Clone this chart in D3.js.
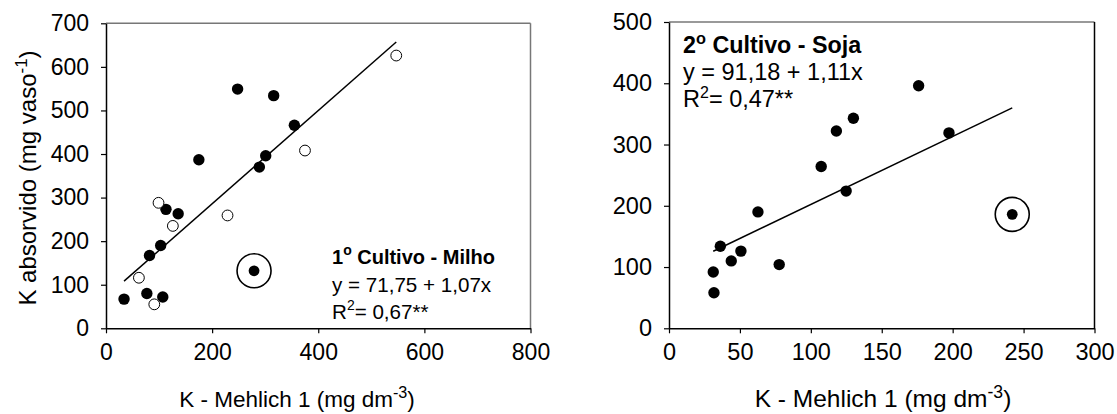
<!DOCTYPE html>
<html><head><meta charset="utf-8">
<script src="https://cdn.jsdelivr.net/npm/d3@7"></script>
<style>
body{margin:0;background:#fff;}
text{font-family:Arial,"Liberation Sans",sans-serif;fill:#000;}
</style></head>
<body><svg id="c" width="1117" height="414"></svg>
<script>
// ---- data ----
const milhoFilledX = [34, 77, 107, 82, 103, 113, 136, 175, 248, 289, 301, 316, 355];
const milhoFilledY = [67, 80, 72, 167, 190, 273, 263, 387, 549, 370, 396, 534, 466];
const milhoOpenX = [62, 91, 99, 126, 229, 375, 547];
const milhoOpenY = [116, 55, 288, 235, 259, 408, 626];
const milhoOutlier = [279, 132];
const milhoFit = {a: 71.75, b: 1.07};
const milhoXTicks = [0, 200, 400, 600, 800];
const milhoYTicks = [0, 100, 200, 300, 400, 500, 600, 700];

const sojaX = [31.7, 31.2, 36.2, 43.9, 50.7, 62.7, 77.7, 124.9, 107.3, 118, 130, 176, 197.4];
const sojaY = [58, 92, 134, 110, 126, 190, 104, 224, 264, 322, 343, 396, 319];
const sojaOutlier = [242, 186];
const sojaFit = {a: 91.18, b: 1.11};
const sojaXTicks = [0, 50, 100, 150, 200, 250, 300];
const sojaYTicks = [0, 100, 200, 300, 400, 500];

const svg = d3.select("#c");

function panel(o) {
  const x = d3.scaleLinear().domain(o.xDom).range([o.x0, o.x1]);
  const y = d3.scaleLinear().domain(o.yDom).range([o.y0, o.y1]);
  const g = svg.append("g");
  g.append("line").attr("x1", o.x0).attr("x2", o.x1).attr("y1", o.y1).attr("y2", o.y1)
    .attr("stroke", "#777").attr("stroke-width", 1.5);
  g.append("line").attr("x1", o.x1).attr("x2", o.x1).attr("y1", o.y1).attr("y2", o.y0)
    .attr("stroke", o.rightColor).attr("stroke-width", 1.5);
  const xa = g.append("g").attr("transform", `translate(0,${o.y0})`)
    .call(d3.axisBottom(x).tickValues(o.xTicks).tickSize(5).tickPadding(10).tickSizeOuter(0));
  const ya = g.append("g").attr("transform", `translate(${o.x0},0)`)
    .call(d3.axisLeft(y).tickValues(o.yTicks).tickSize(5).tickPadding(12).tickSizeOuter(0));
  [xa, ya].forEach(a => {
    a.attr("font-size", o.fs).attr("font-family", "Arial, 'Liberation Sans', sans-serif");
    a.select(".domain").attr("stroke", "#000").attr("stroke-width", 1.5);
    a.selectAll(".tick line").attr("stroke", "#000").attr("stroke-width", 1.2);
    a.selectAll(".tick text").attr("font-size", o.fs).attr("fill", "#000");
  });
  const xs = o.fitX;
  g.append("line")
    .attr("x1", x(xs[0])).attr("y1", y(o.fit.a + o.fit.b * xs[0]))
    .attr("x2", x(xs[1])).attr("y2", y(o.fit.a + o.fit.b * xs[1]))
    .attr("stroke", "#000").attr("stroke-width", 1.5);
  g.selectAll(".f").data(o.filled).enter().append("circle")
    .attr("cx", d => x(d[0])).attr("cy", d => y(d[1])).attr("r", 5.7).attr("fill", "#000");
  g.selectAll(".o").data(o.open).enter().append("circle")
    .attr("cx", d => x(d[0])).attr("cy", d => y(d[1])).attr("r", 5.4)
    .attr("fill", "#fff").attr("stroke", "#000").attr("stroke-width", 1);
  g.append("circle").attr("cx", x(o.outlier[0])).attr("cy", y(o.outlier[1])).attr("r", 17)
    .attr("fill", "none").attr("stroke", "#000").attr("stroke-width", 1.6);
  g.append("circle").attr("cx", x(o.outlier[0])).attr("cy", y(o.outlier[1])).attr("r", 5.4).attr("fill", "#000");
  const t1 = g.append("text").attr("x", o.ax).attr("y", o.ay).attr("font-size", o.bfs).attr("font-weight", "bold");
  t1.append("tspan").text(o.num);
  t1.append("tspan").attr("dy", -9).attr("font-size", o.bfs * 0.7).text("o");
  t1.append("tspan").attr("dy", 9).text(" Cultivo - " + o.crop);
  g.append("text").attr("x", o.ax).attr("y", o.ay + o.ls).attr("font-size", o.afs)
    .text(`y = ${String(o.fit.a).replace(".", ",")} + ${String(o.fit.b).replace(".", ",")}x`);
  const t3 = g.append("text").attr("x", o.ax).attr("y", o.ay + 2 * o.ls).attr("font-size", o.afs);
  t3.append("tspan").text("R");
  t3.append("tspan").attr("dy", -9).attr("font-size", o.afs * 0.68).text("2");
  t3.append("tspan").attr("dy", 9).text("= " + o.r2 + "**");
  const xt = g.append("text").attr("x", o.xtx).attr("y", 407).attr("font-size", o.tfs).attr("text-anchor", "middle");
  xt.append("tspan").text("K - Mehlich 1 (mg dm");
  xt.append("tspan").attr("dy", -9).attr("font-size", o.tfs * 0.72).text("-3");
  xt.append("tspan").attr("dy", 9).text(")");
  return {x, y};
}

panel({
  xDom: [0, 800], yDom: [0, 700], x0: 106, x1: 530.5, y0: 328.3, y1: 23.3,
  xTicks: milhoXTicks, yTicks: milhoYTicks, rightColor: "#777",
  filled: milhoFilledX.map((v, i) => [v, milhoFilledY[i]]),
  open: milhoOpenX.map((v, i) => [v, milhoOpenY[i]]),
  outlier: milhoOutlier, fit: milhoFit,
  fitX: [d3.min(milhoFilledX.concat(milhoOpenX)), d3.max(milhoFilledX.concat(milhoOpenX))],
  ax: 332, ay: 264, ls: 27.5, num: "1", crop: "Milho", r2: "0,67", xtx: 297,
  fs: 23, bfs: 20, afs: 20.6, tfs: 22.5
});
panel({
  xDom: [0, 300], yDom: [0, 500], x0: 669, x1: 1094.5, y0: 328.3, y1: 22,
  xTicks: sojaXTicks, yTicks: sojaYTicks, rightColor: "#000",
  filled: sojaX.map((v, i) => [v, sojaY[i]]),
  open: [],
  outlier: sojaOutlier, fit: sojaFit,
  fitX: [d3.min(sojaX), sojaOutlier[0]],
  ax: 683, ay: 53, ls: 27, num: "2", crop: "Soja", r2: "0,47", xtx: 883,
  fs: 23.5, bfs: 23.3, afs: 23.5, tfs: 24.5
});

const yt = svg.append("text").attr("transform", "translate(36,178) rotate(-90)")
  .attr("font-size", 24).attr("text-anchor", "middle");
yt.append("tspan").text("K absorvido (mg vaso");
yt.append("tspan").attr("dy", -9).attr("font-size", 17).text("-1");
yt.append("tspan").attr("dy", 9).text(")");
</script></body></html>
